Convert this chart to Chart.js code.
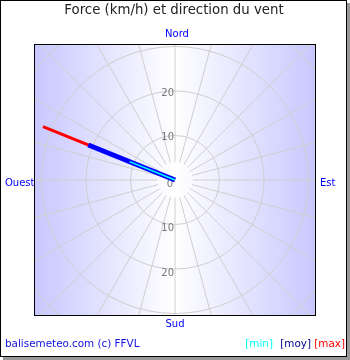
<!DOCTYPE html>
<html>
<head>
<meta charset="utf-8">
<script src="https://cdn.jsdelivr.net/npm/chart.js@4"></script>
<style>
  html, body { margin: 0; padding: 0; background: #fff; }
  #wrap { width: 350px; height: 360px; }
</style>
</head>
<body>
<div id="wrap"><canvas id="grafico_vent" width="350" height="360"></canvas></div>
<script>
// ---------- données du vent ----------
const direction = [292];      // degrés, 0 = Nord, sens horaire
const ventMin = [11];         // km/h
const ventMoy = [21];
const ventMax = [32];

// ---------- grille ----------
const cercles = [10, 20, 30, 40];
const graduations = [0, 10, 20];
const pasRayons = 15;         // degrés entre deux rayons
const pointsCardinaux = ["Nord", "Est", "Sud", "Ouest"];
const legende = ["[min]", "[moy]", "[max]"];
const couleursLegende = ["#00ffff", "#00008b", "#ff0000"];

// vitesse + direction -> coordonnées x / y
function versXY(v, dir) {
  const a = dir * Math.PI / 180;
  return [{ x: 0, y: 0 }, { x: v * Math.sin(a), y: v * Math.cos(a) }];
}

const fond = {
  id: "fond",
  beforeDraw(chart) {
    const ctx = chart.ctx;
    const area = chart.chartArea;
    const sx = chart.scales.x, sy = chart.scales.y;
    const cx = sx.getPixelForValue(0), cy = sy.getPixelForValue(0);
    const unite = sx.getPixelForValue(1) - cx;

    ctx.save();
    ctx.fillStyle = "#fff";
    ctx.fillRect(0, 0, chart.width, chart.height);

    // cadre + ombre
    ctx.fillStyle = "#999";
    ctx.fillRect(3, 357, 347, 3);
    ctx.fillRect(347, 3, 3, 357);
    ctx.strokeStyle = "#000";
    ctx.lineWidth = 1;
    ctx.strokeRect(0.5, 0.5, 346, 356);

    // dégradé horizontal
    const g = ctx.createLinearGradient(area.left, 0, area.right, 0);
    g.addColorStop(0, "rgb(200,200,255)");
    g.addColorStop(0.5, "rgb(255,255,255)");
    g.addColorStop(1, "rgb(200,200,255)");
    ctx.fillStyle = g;
    ctx.fillRect(area.left, area.top, area.right - area.left, area.bottom - area.top);

    ctx.beginPath();
    ctx.rect(area.left, area.top, area.right - area.left, area.bottom - area.top);
    ctx.clip();
    ctx.strokeStyle = "#cfcfcf";
    cercles.forEach(c => {
      ctx.beginPath();
      ctx.arc(cx, cy, c * unite, 0, 2 * Math.PI);
      ctx.stroke();
    });
    for (let d = 0; d < 360; d += pasRayons) {
      const a = d * Math.PI / 180;
      const r0 = 4 * unite, r1 = 60 * unite;
      ctx.beginPath();
      ctx.moveTo(cx + r0 * Math.sin(a), cy - r0 * Math.cos(a));
      ctx.lineTo(cx + r1 * Math.sin(a), cy - r1 * Math.cos(a));
      ctx.stroke();
    }
    ctx.restore();

    // graduations
    ctx.save();
    ctx.font = "10px 'DejaVu Sans'";
    ctx.fillStyle = "#777";
    ctx.textAlign = "right";
    ctx.textBaseline = "middle";
    graduations.forEach(v => {
      if (v === 0) {
        ctx.fillText("0", cx - 2, cy + 4);
      } else {
        ctx.fillText(String(v), cx - 1, sy.getPixelForValue(v) + 2);
        ctx.fillText(String(v), cx - 1, sy.getPixelForValue(-v) + 4);
      }
    });
    ctx.restore();
  },
  afterDraw(chart) {
    const ctx = chart.ctx;
    const area = chart.chartArea;
    const cx = (area.left + area.right) / 2, cy = (area.top + area.bottom) / 2;
    ctx.save();
    ctx.strokeStyle = "#000";
    ctx.lineWidth = 1;
    ctx.strokeRect(area.left - 0.5, area.top - 0.5, area.right - area.left + 1, area.bottom - area.top + 1);

    ctx.textBaseline = "middle";
    ctx.fillStyle = "#222";
    ctx.textAlign = "center";
    ctx.font = "13.3px 'DejaVu Sans'";
    ctx.fillText("Force (km/h) et direction du vent", 174, 11);

    ctx.font = "10px 'DejaVu Sans'";
    ctx.fillStyle = "#0000ff";
    ctx.fillText(pointsCardinaux[0], cx + 2, 34);
    ctx.fillText(pointsCardinaux[2], cx, 324);
    ctx.textAlign = "left";
    ctx.fillText(pointsCardinaux[1], area.right + 5, cy + 3);
    ctx.fillText(pointsCardinaux[3], 5, cy + 3);

    ctx.font = "10.4px 'DejaVu Sans'";
    ctx.fillStyle = "#1010e0";
    ctx.fillText("balisemeteo.com (c) FFVL", 5, 344);
    ctx.textAlign = "right";
    const fins = [273, 311, 345];
    legende.forEach((t, i) => {
      ctx.fillStyle = couleursLegende[i];
      ctx.fillText(t, fins[i], 344);
    });
    ctx.restore();
  }
};

const ctx1 = document.getElementById("grafico_vent").getContext("2d");
new Chart(ctx1, {
  type: "scatter",
  data: {
    datasets: [
      { label: "min", data: versXY(ventMin[0], direction[0]), borderColor: "#00ffff", borderWidth: 1.5, showLine: true, pointRadius: 0 },
      { label: "moy", data: versXY(ventMoy[0], direction[0]), borderColor: "#0000ff", borderWidth: 5, showLine: true, pointRadius: 0 },
      { label: "max", data: versXY(ventMax[0], direction[0]), borderColor: "#ff0000", borderWidth: 3, showLine: true, pointRadius: 0 }
    ]
  },
  options: {
    responsive: false,
    animation: false,
    layout: { padding: { left: 35, top: 45, right: 35, bottom: 45 } },
    scales: {
      x: { type: "linear", min: -31.46, max: 31.46, display: false },
      y: { type: "linear", min: -30.34, max: 30.34, display: false }
    },
    plugins: {
      legend: { display: false },
      tooltip: { enabled: false },
      title: { display: false }
    }
  },
  plugins: [fond]
});
</script>
</body>
</html>
